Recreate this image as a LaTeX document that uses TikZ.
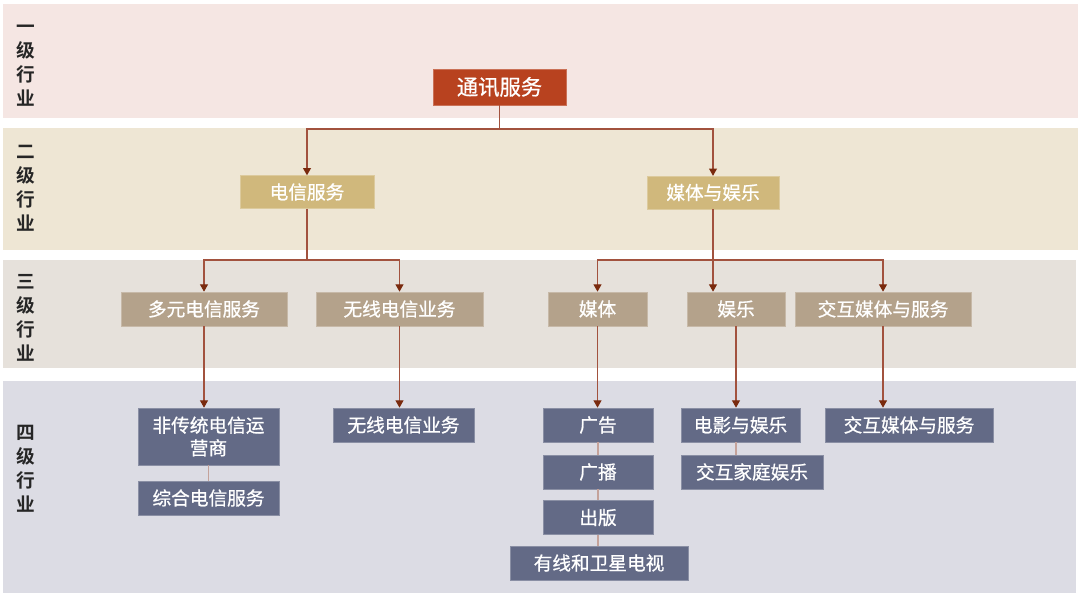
\documentclass[tikz,border=0pt]{standalone}
\usepackage{fontspec}
\newfontfamily\cjk{Noto Sans CJK SC}[BoldFont={Noto Sans CJK SC Bold}]
\newfontfamily\cjkbox{Noto Sans CJK SC}[FakeBold=0.8]
\usetikzlibrary{arrows.meta}
\definecolor{bandone}{HTML}{F5E6E3}
\definecolor{bandtwo}{HTML}{EEE6D4}
\definecolor{bandthree}{HTML}{E6E1DB}
\definecolor{bandfour}{HTML}{DCDCE4}
\definecolor{fillred}{HTML}{B8421F}
\definecolor{fillgold}{HTML}{D0B87C}
\definecolor{filltan}{HTML}{B4A28B}
\definecolor{fillslate}{HTML}{636A86}
\definecolor{linkred}{HTML}{A2523E}
\definecolor{tipred}{HTML}{7A2A0E}
\definecolor{linkpale}{HTML}{C4A29A}
\tikzset{
  box/.style={inner sep=0pt, align=center, text=white,
    font=\cjkbox\fontsize{14}{17}\selectfont, minimum height=25.5pt},
  topbox/.style={box, fill=fillred, draw=fillred!75!white, line width=0.5pt,
    font=\cjkbox\fontsize{16}{19}\selectfont, minimum height=27pt},
  goldbox/.style={box, fill=fillgold, draw=fillgold!75!white, line width=0.5pt, minimum height=24.5pt},
  tanbox/.style={box, fill=filltan, draw=filltan!75!white, line width=0.5pt},
  slatebox/.style={box, fill=fillslate, draw=fillslate!75!white, line width=0.5pt},
  lvl/.style={align=center, font=\cjk\bfseries\fontsize{14}{18}\selectfont, text=black!85},
  tieline/.style={draw=linkred, line width=0.8pt},
  flowarrow/.style={tieline, -{Triangle[length=5.5pt, width=6pt, color=tipred]}},
  paleline/.style={draw=linkpale, line width=0.8pt}
}
\begin{document}
\begin{tikzpicture}[x=0.75pt, y=-0.75pt]
  \useasboundingbox (0,0) rectangle (1080,596);
  % level bands
  \fill[bandone]   (3,4)   rectangle (1078,118);
  \fill[bandtwo]   (3,128) rectangle (1078,250);
  \fill[bandthree] (3,260) rectangle (1076,368);
  \fill[bandfour]  (3,381) rectangle (1076,593);
  % level labels (left)
  \foreach \n/\c/\y in {one/一/66, two/二/188, three/三/318, four/四/469} {
    \node[lvl] (lvl\n) at (26,\y) {\c\\级\\行\\业};
  }
  % LEVEL 1
  \node[topbox, minimum width=99.75pt] (comm) at (499.5,87) {通讯服务};
  % LEVEL 2
  \node[goldbox, minimum width=100.5pt] (tele) at (307,192) {电信服务};
  \node[goldbox, minimum width=99pt] (mediaent) at (713,192.5) {媒体与娱乐};
  % LEVEL 3
  \node[tanbox, minimum width=124.5pt] (divtel) at (204,309) {多元电信服务};
  \node[tanbox, minimum width=125.25pt] (wlthree) at (399.5,309) {无线电信业务};
  \node[tanbox, minimum width=74.25pt] (media) at (597.5,309) {媒体};
  \node[tanbox, minimum width=73.5pt] (ent) at (736,309) {娱乐};
  \node[tanbox, minimum width=132pt] (imsthree) at (883,309) {交互媒体与服务};
  % LEVEL 4
  \node[slatebox, minimum width=105.75pt, minimum height=42.75pt] (altop) at (208.5,436.5) {非传统电信运\\营商};
  \node[slatebox, minimum width=105.75pt] (integ) at (208.5,498) {综合电信服务};
  \node[slatebox, minimum width=105.75pt] (wlfour) at (403.5,425) {无线电信业务};
  \node[slatebox, minimum width=82.5pt] (advert) at (598,425) {广告};
  \node[slatebox, minimum width=82.5pt] (bcast) at (598,472) {广播};
  \node[slatebox, minimum width=82.5pt] (publ) at (598,517.5) {出版};
  \node[slatebox, minimum width=133.5pt] (cabtv) at (599,563) {有线和卫星电视};
  \node[slatebox, minimum width=89.25pt] (film) at (740.5,425) {电影与娱乐};
  \node[slatebox, minimum width=106.5pt] (homeent) at (752,472) {交互家庭娱乐};
  \node[slatebox, minimum width=126pt] (imsfour) at (909,425) {交互媒体与服务};
  % connectors 1 -> 2
  \coordinate (jone) at (499.5,129);
  \draw[tieline] (comm) -- (jone);
  \draw[flowarrow] (jone) -| (tele);
  \draw[flowarrow] (jone) -| (mediaent);
  % connectors 2 -> 3
  \coordinate (jtwo) at (307,260);
  \draw[tieline] (tele) -- (jtwo);
  \draw[flowarrow] (jtwo) -| (divtel);
  \draw[flowarrow] (jtwo) -| (wlthree);
  \coordinate (jthree) at (713,260);
  \draw[tieline] (mediaent) -- (jthree);
  \draw[flowarrow] (jthree) -| (media);
  \draw[flowarrow] (jthree) -| (imsthree);
  \draw[flowarrow] (jthree) -- (jthree |- ent.north);
  % connectors 3 -> 4
  \draw[flowarrow] (divtel.south) -- (divtel.south |- altop.north);
  \draw[flowarrow] (wlthree.south) -- (wlthree.south |- wlfour.north);
  \draw[flowarrow] (media.south) -- (media.south |- advert.north);
  \draw[flowarrow] (ent.south) -- (ent.south |- film.north);
  \draw[flowarrow] (imsthree.south) -- (imsthree.south |- imsfour.north);
  % links inside level 4
  \draw[paleline] (altop) -- (integ);
  \draw[paleline] (advert) -- (bcast);
  \draw[paleline] (bcast) -- (publ);
  \draw[paleline] (publ.south) -- (publ.south |- cabtv.north);
  \draw[paleline] (ent.south |- film.south) -- (ent.south |- homeent.north);
\end{tikzpicture}
\end{document}
